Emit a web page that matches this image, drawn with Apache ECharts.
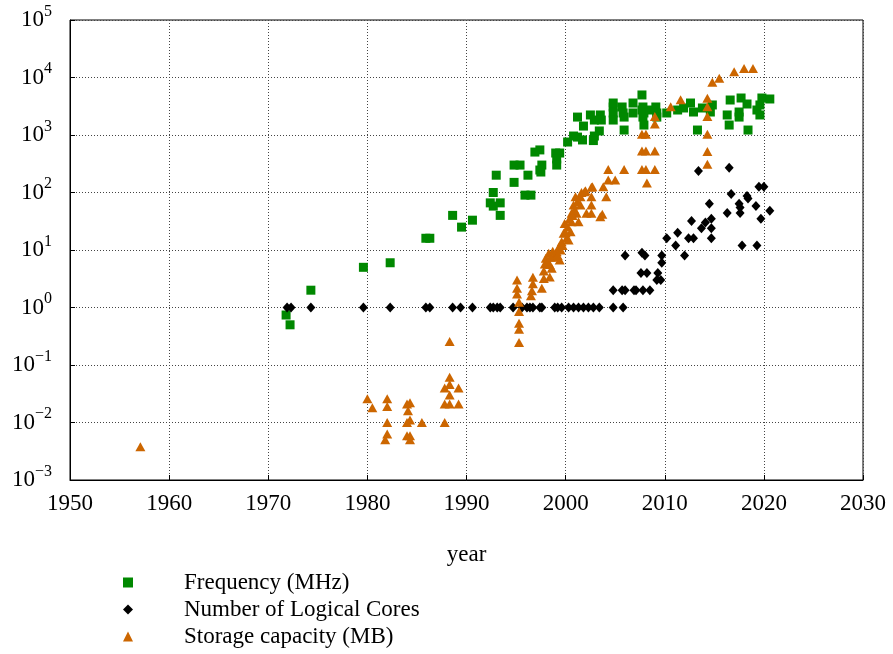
<!DOCTYPE html>
<html>
<head>
<meta charset="utf-8">
<script src="https://cdn.jsdelivr.net/npm/echarts@6/dist/echarts.min.js"></script>
<style>html,body{margin:0;padding:0;background:#fff}#c{width:893px;height:654px}</style>
</head>
<body>
<div id="c"></div>
<script>
const seriesNames = ['Frequency (MHz)', 'Number of Logical Cores', 'Storage capacity (MB)'];
const xTicks = [1950, 1960, 1970, 1980, 1990, 2000, 2010, 2020, 2030];
const yTickExponents = [-3, -2, -1, 0, 1, 2, 3, 4, 5];

const frequency = [
 [1971.8,0.74],[1972.2,0.5],[1974.3,2],[1979.6,5],[1982.3,6],[1985.9,16],[1986.3,16],
 [1988.6,40],[1989.5,25],[1990.6,33],[1992.4,66],[1992.7,100],[1992.7,58],[1993.4,66],
 [1993.4,40],[1993.0,200],[1994.8,150],[1994.8,300],[1995.4,300],[1996.2,200],[1995.9,90],
 [1996.5,90],[1996.9,505],[1997.4,550],[1997.4,246],[1997.6,300],[1997.5,227],[1999.0,486],
 [1999.4,486],[1999.1,383],[1999.1,300],[2000.2,755],[2000.8,960],[2001.2,920],[2001.7,820],
 [2001.2,2050],[2001.8,1430],[2002.5,2230],[2002.9,960],[2002.9,1820],[2003.5,2230],
 [2003.6,1820],[2003.4,1175],[2002.8,800],[2004.8,3070],[2004.8,3600],[2004.8,2415],[2004.8,1820],
 [2005.7,3070],[2005.8,2415],[2005.9,2050],[2005.9,1220],[2006.8,3600],[2006.8,2415],
 [2007.7,4970],[2007.8,3070],[2007.7,2720],[2007.8,2050],[2007.9,1490],[2007.9,2415],
 [2008.5,2720],[2009.1,3070],[2009.2,2415],[2009.2,2050],[2010.2,2415],[2011.3,2720],
 [2011.9,2950],[2012.6,3600],[2012.9,2510],[2013.3,1220],[2013.8,2950],[2014.6,2510],
 [2014.8,3330],[2016.3,2230],[2016.5,1490],[2016.6,4060],[2017.5,2510],[2017.5,2050],
 [2017.7,4400],[2018.3,3460],[2018.4,1220],[2019.3,2720],[2019.6,3330],[2019.8,4400],
 [2019.6,2230],[2020.6,4230]
];

const cores = [
 [1971.9,1],[1972.3,1],[1974.3,1],[1979.6,1],[1982.3,1],[1985.9,1],[1986.3,1],[1988.6,1],
 [1989.4,1],[1990.6,1],[1992.4,1],[1992.7,1],[1993.1,1],[1993.4,1],[1994.7,1],[1995.6,1],
 [1996.1,1],[1996.4,1],[1996.7,1],[1997.4,1],[1997.6,1],[1998.9,1],[1999.2,1],[1999.6,1],
 [2000.3,1],[2000.8,1],[2001.3,1],[2001.8,1],[2002.3,1],[2002.8,1],[2003.4,1],[2004.8,1],
 [2005.8,1],
 [2004.8,2],[2005.7,2],[2006.0,2],[2006.9,2],[2007.1,2],[2007.8,2],[2008.5,2],
 [2007.6,4],[2008.2,4],[2009.3,4],[2009.2,3],[2009.6,3],
 [2006.0,8],[2007.7,9],[2008.0,8],[2009.7,8],[2009.7,6],
 [2010.2,16],[2011.1,12],[2011.3,20],[2012.0,8],[2012.4,16],[2012.9,16],[2012.7,32],
 [2013.7,24],[2014.1,30],[2014.7,35],[2014.7,24],[2014.7,16],[2014.5,64],[2013.4,237],
 [2016.5,270],[2016.3,44],[2016.7,94],[2017.5,64],[2017.6,55],[2017.6,44],[2017.8,12],
 [2018.3,87],[2018.4,79],[2019.3,12],[2019.2,58],[2019.5,126],[2020.0,126],[2019.7,35],
 [2020.6,48]
];

const storage = [
 [1957.1,0.0038],[1980.0,0.026],[1980.5,0.018],[1982.0,0.026],[1982.0,0.019],[1982.0,0.01],
 [1982.0,0.0063],[1981.8,0.005],[1984.0,0.021],[1984.3,0.022],[1984.1,0.016],[1984.3,0.011],
 [1984.0,0.01],[1984.0,0.0059],[1984.3,0.0059],[1984.3,0.005],[1985.5,0.01],[1987.8,0.01],
 [1987.8,0.021],[1988.3,0.021],[1989.2,0.021],[1988.3,0.03],[1987.8,0.04],[1989.2,0.04],
 [1988.3,0.046],[1988.3,0.061],[1988.3,0.255],
 [1995.1,3.0],[1995.1,2.16],[1995.1,1.72],[1995.3,1.23],[1995.3,0.85],[1995.3,0.53],
 [1995.3,0.42],[1995.3,0.245],
 [1996.7,3.35],[1996.7,2.6],[1996.6,1.95],[1996.5,1.6],
 [1997.6,2.16],[1997.8,3.2],[1997.8,4.3],[1997.9,5.7],[1998.0,7.2],[1998.3,8.8],[1998.4,5.6],
 [1998.4,3.4],[1998.6,4.8],[1998.9,7.5],[1999.1,9.3],[1999.3,11.1],[1999.4,6.7],[1999.6,13.9],
 [1999.8,19.5],[1999.9,29],[2000.1,16],[2000.3,14.9],[2000.5,20.8],[2000.6,31],[2000.6,43.5],
 [2000.8,60.6],[2001.0,84.5],[2001.1,43.5],[2001.3,31],[2001.5,60.6],[2001.5,84.5],[2002.0,107],
 [2002.6,84.5],[2002.6,60.6],[2002.6,123],[2002.1,43.5],[2002.6,43.5],[2003.5,38],
 [1998.2,6],[1998.5,7.5],[1998.7,9.5],[1999.2,8],[1999.5,10],[1999.7,12],[2000.0,20],
 [2000.2,25],[2000.4,35],[2000.7,40],[2000.9,50],[2001.2,70],[2001.6,100],
 [2001.9,103],[2002.7,126],[2003.7,42],[2003.8,126],[2004.1,84],[2004.3,165],[2004.3,250],
 [2005.0,165],[2005.9,250],[2007.7,1030],[2008.1,1030],[2007.7,525],[2008.1,525],[2009.0,525],
 [2007.7,250],[2008.1,250],[2009.0,250],[2008.2,147],[2009.0,1550],[2009.0,2090],[2010.6,3100],
 [2011.6,4100],[2014.3,4350],[2014.3,3100],[2014.3,2090],[2014.3,1030],[2014.3,515],[2014.3,310],
 [2014.8,8260],[2015.5,9680],[2017.0,12600],[2018.0,14400],[2018.9,14400]
];

const FONT = 'Liberation Serif';
const chart = echarts.init(document.getElementById('c'), null, {renderer: 'canvas'});
const gridLine = {show: true, lineStyle: {color: '#444', type: [1, 2], width: 1}};
chart.setOption({
  animation: false,
  backgroundColor: '#fff',
  grid: {left: 70, right: 30, top: 20, bottom: 174, show: true, borderColor: '#000', borderWidth: 1, containLabel: false},
  xAxis: {
    type: 'value', min: xTicks[0], max: xTicks[xTicks.length - 1], interval: 10,
    name: 'year', nameLocation: 'middle', nameGap: 63,
    nameTextStyle: {fontFamily: FONT, fontSize: 23, color: '#000'},
    axisLine: {show: true, lineStyle: {color: '#000', width: 1}},
    axisTick: {show: true, inside: true, length: 5, lineStyle: {color: '#000'}},
    axisLabel: {fontFamily: FONT, fontSize: 23, color: '#000', margin: 12,
      formatter: function (v) { return String(v); }},
    splitLine: gridLine
  },
  yAxis: {
    type: 'log', logBase: 10,
    min: Math.pow(10, yTickExponents[0]), max: Math.pow(10, yTickExponents[yTickExponents.length - 1]),
    axisLine: {show: true, lineStyle: {color: '#000', width: 1}},
    axisTick: {show: true, inside: true, length: 5, lineStyle: {color: '#000'}},
    minorTick: {show: false},
    axisLabel: {
      margin: 18, color: '#000',
      formatter: function (v) {
        const e = Math.round(Math.log10(v));
        return '{b|10}{s|' + (e < 0 ? '\u2212' + (-e) : String(e)) + '}';
      },
      rich: {
        b: {fontFamily: FONT, fontSize: 23, color: '#000', lineHeight: 24, verticalAlign: 'middle'},
        s: {fontFamily: FONT, fontSize: 16, color: '#000', lineHeight: 16, verticalAlign: 'middle', padding: [0, 0, 17, 0]}
      }
    },
    splitLine: gridLine
  },
  legend: {
    orient: 'vertical', left: 118, top: 566, height: 120, itemGap: 4, itemWidth: 10, itemHeight: 10,
    textStyle: {fontFamily: FONT, fontSize: 23, color: '#000', padding: [0, 0, 0, 46]},
    data: seriesNames
  },
  series: [
    {name: seriesNames[0], type: 'scatter', symbol: 'rect', symbolSize: 9, data: frequency,
     itemStyle: {color: '#008800', opacity: 1}},
    {name: seriesNames[1], type: 'scatter', symbol: 'diamond', symbolSize: [9, 10], data: cores,
     itemStyle: {color: '#000000', opacity: 1}},
    {name: seriesNames[2], type: 'scatter', symbol: 'triangle', symbolSize: [10, 9], data: storage,
     itemStyle: {color: '#cc6600', opacity: 1}}
  ]
});
</script>
</body>
</html>
